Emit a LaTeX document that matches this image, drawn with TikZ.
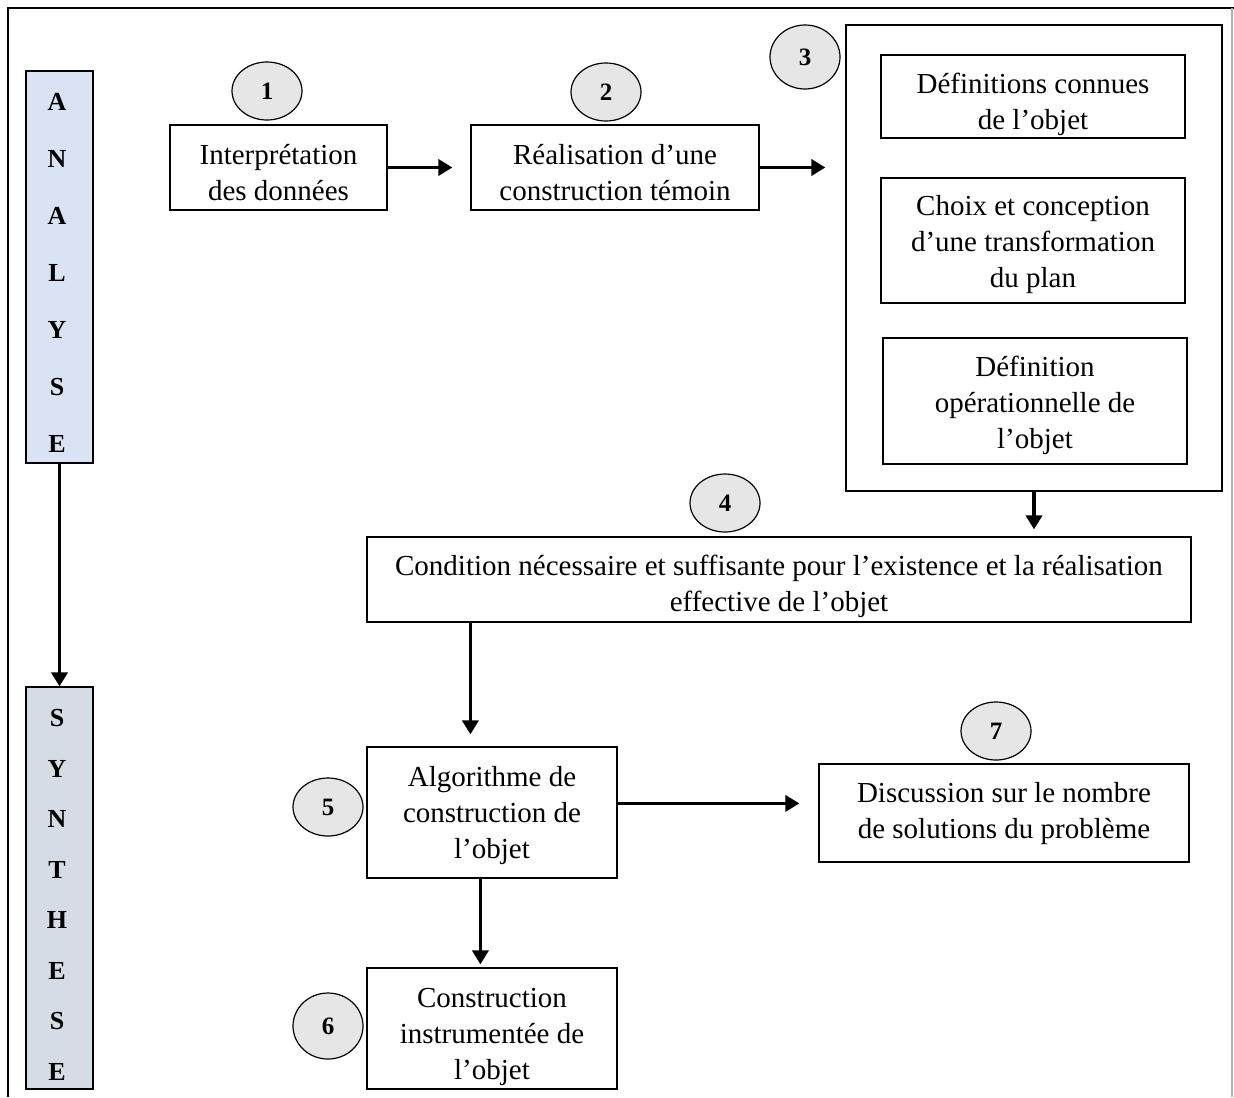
\documentclass[tikz,border=0pt]{standalone}
\usepackage{fontspec}
\setmainfont{Liberation Serif}
\usetikzlibrary{shapes.geometric,arrows.meta,calc}
\definecolor{numgray}{HTML}{E7E6E6}
\definecolor{barblue}{HTML}{DAE3F3}
\definecolor{bargray}{HTML}{D6DCE5}
\begin{document}
\begin{tikzpicture}[x=0.5pt,y=-0.5pt,
 box/.style={draw, line width=0.6pt, inner sep=0pt},
 txt/.style={align=center, inner sep=0pt, font=\fontsize{14.5pt}{18pt}\selectfont},
 num/.style={draw, ellipse, fill=numgray, line width=0.6pt, minimum width=35pt, minimum height=29pt, inner sep=0pt, font=\fontsize{12.5pt}{14pt}\selectfont\bfseries},
 bar/.style={draw, line width=0.6pt, minimum width=33.5pt, inner sep=0pt},
 letter/.style={font=\fontsize{13pt}{14pt}\selectfont\bfseries, inner sep=0pt},
 arr/.style={line width=1.8pt, -{Triangle[length=7pt,width=8pt]}},
 frame/.style={line width=0.8pt},
]
\useasboundingbox (0,0) rectangle (1234,1097);
% outer frame
\draw[frame] (8,1097) -- (8,8) -- (1234,8);
\draw[frame, gray!60] (1232,8) -- (1232,1097);

% side bars
\node[bar, fill=barblue, minimum height=196pt] (barA) at (59.5,267) {};
\node[bar, fill=bargray, minimum height=201pt] (barS) at (59.5,888) {};
\foreach \l [count=\i] in {A,N,A,L,Y,S,E}
  \node[letter] (a\i) at (57,{102+57*(\i-1)}) {\l};
\foreach \l [count=\i] in {S,Y,N,T,H,E,S,E}
  \node[letter] (s\i) at (57,{718+50.5*(\i-1)}) {\l};

% boxes
\node[box, minimum width=108.5pt, minimum height=42.5pt] (b1) at (278.5,167.5) {};
\node[box, minimum width=144pt, minimum height=42.5pt] (b2) at (615,167.5) {};
\node[box, minimum width=188pt, minimum height=233pt] (b3) at (1034,258) {};
\node[box, minimum width=152pt, minimum height=41.5pt] (b3a) at (1033,96.5) {};
\node[box, minimum width=152pt, minimum height=62.5pt] (b3b) at (1033,240.5) {};
\node[box, minimum width=152pt, minimum height=63pt] (b3c) at (1035,401) {};
\node[box, minimum width=412pt, minimum height=42.5pt] (b4) at (779,579.5) {};
\node[box, minimum width=125pt, minimum height=65.5pt] (b5) at (492,812.5) {};
\node[box, minimum width=185pt, minimum height=49pt] (b7) at (1004,813) {};
\node[box, minimum width=125pt, minimum height=60.5pt] (b6) at (492,1028.5) {};

% box texts
\node[txt] (t1) at ([yshift=-2.5pt]b1.center) {Interprétation\\des données};
\node[txt] (t2) at ([yshift=-2.5pt]b2.center) {Réalisation d’une\\construction témoin};
\node[txt] (t3a) at ([yshift=-4pt]b3a.center) {Définitions connues\\de l’objet};
\node[txt] (t3b) at ([yshift=-2pt]b3b.center) {Choix et conception\\d’une transformation\\du plan};
\node[txt] (t3c) at ([yshift=-2.2pt]b3c.center) {Définition\\opérationnelle de\\l’objet};
\node[txt] (t4) at ([yshift=-3.5pt]b4.center) {Condition nécessaire et suffisante pour l’existence et la réalisation\\effective de l’objet};
\node[txt] (t5) at ([yshift=-1.5pt]b5.center) {Algorithme de\\construction de\\l’objet};
\node[txt] (t7) at ([yshift=-0.5pt]b7.center) {Discussion sur le nombre\\de solutions du problème};
\node[txt] (t6) at ([yshift=-4pt]b6.center) {Construction\\instrumentée de\\l’objet};

% number ellipses
\node[num] (n1) at (267,91) {1};
\node[num] (n2) at (606,92) {2};
\node[num, minimum height=32pt] (n3) at (805,57) {3};
\node[num] (n4) at (725,503) {4};
\node[num] (n5) at (328,807) {5};
\node[num, minimum height=33pt] (n6) at (328,1026) {6};
\node[num] (n7) at (996,731) {7};

% arrows
\draw[arr] (barA.south) -- (barS.north);
\draw[arr, shorten >=9pt] (b1.east) -- (b2.west);
\draw[arr, shorten >=10pt] (b2.east) -- (b2.east -| b3.west);
\draw[arr, shorten >=3.5pt] (b3.south) -- (b3.south |- b4.north);
\draw[arr, shorten >=6pt] ([xshift=52pt]b4.south west) -- ([xshift=52pt]b5.north west);
\draw[arr, shorten >=9.5pt] ([yshift=-28.5pt]b5.north east) -- ([yshift=-28.5pt]b5.north east -| b7.west);
\draw[arr, shorten >=1.5pt] ([xshift=57pt]b5.south west) -- ([xshift=57pt]b6.north west);
\end{tikzpicture}
\end{document}
